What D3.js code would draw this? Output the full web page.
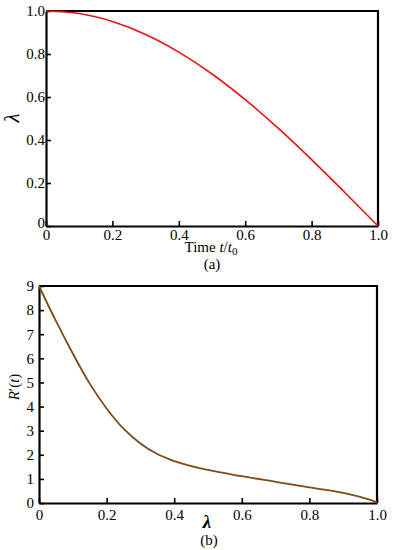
<!DOCTYPE html>
<html>
<head>
<meta charset="utf-8">
<script src="https://cdn.jsdelivr.net/npm/d3@7"></script>
<style>
  body { margin: 0; background: #fff; }
  svg { display: block; font-family: "Liberation Serif", "Times New Roman", serif; }
  svg text { font-family: "Liberation Serif", "Times New Roman", serif; }
  .tick text { font-size: 15px; fill: #000; }
</style>
</head>
<body>
<div id="chart"></div>
<script>
// 图(a)：λ 随时间变化
const timeA = [0, 0.1, 0.2, 0.3, 0.4, 0.5, 0.6, 0.7, 0.8, 0.9, 1.0];
const lambdaA = [1.0, 0.988, 0.951, 0.891, 0.809, 0.707, 0.588, 0.454, 0.309, 0.156, 0];

// 图(b)：R'(t) 随 λ 变化
const lambdaB = [0, 0.05, 0.1, 0.15, 0.2, 0.25, 0.3, 0.35, 0.4, 0.5, 0.6, 0.7, 0.8, 0.9, 0.95, 1.0];
const rateB = [9.0, 7.55, 6.2, 4.95, 3.92, 3.08, 2.47, 2.03, 1.74, 1.37, 1.11, 0.88, 0.65, 0.42, 0.25, 0.03];

// 刻度
const xTicks = [0, 0.2, 0.4, 0.6, 0.8, 1.0];
const xTickLabels = ["0", "0.2", "0.4", "0.6", "0.8", "1.0"];
const yTicksA = [0, 0.2, 0.4, 0.6, 0.8, 1.0];
const yTickLabelsA = ["0", "0.2", "0.4", "0.6", "0.8", "1.0"];
const yTicksB = [0, 1, 2, 3, 4, 5, 6, 7, 8, 9];
const yTickLabelsB = ["0", "1", "2", "3", "4", "5", "6", "7", "8", "9"];

const serif = '"Liberation Serif", "Times New Roman", serif';

const svg = d3.select("#chart")
    .append("svg")
    .attr("width", 393)
    .attr("height", 550);

// 画一个面板
function drawPanel(opt) {
    const x = d3.scaleLinear().domain([0, 1]).range([opt.left, opt.right]);
    const y = d3.scaleLinear().domain(opt.yDomain).range([opt.bottom, opt.top]);

    // X轴（刻度朝内）
    const gx = svg.append("g")
        .attr("transform", `translate(0, ${opt.bottom})`)
        .call(d3.axisBottom(x)
            .tickValues(xTicks)
            .tickFormat((d, i) => xTickLabels[i])
            .tickSizeInner(-5)
            .tickSizeOuter(0)
            .tickPadding(opt.xPad));
    // Y轴
    const gy = svg.append("g")
        .attr("transform", `translate(${opt.left}, 0)`)
        .call(d3.axisLeft(y)
            .tickValues(opt.yTicks)
            .tickFormat((d, i) => opt.yLabels[i])
            .tickSizeInner(-5)
            .tickSizeOuter(0)
            .tickPadding(opt.yPad));

    [gx, gy].forEach(g => {
        g.attr("font-family", serif).attr("font-size", 15);
        g.select(".domain").attr("stroke", "#000").attr("stroke-width", 2.2);
        g.selectAll(".tick line").attr("stroke", "#000").attr("stroke-width", 1.6);
        g.selectAll(".tick text").style("font-family", serif);
    });

    // 左下角的 y 轴 "0" 稍微上移，避免与 x 轴 "0" 重叠
    if (opt.shiftZero) {
        gy.selectAll(".tick text").filter(d => d === 0).attr("dy", "0.1em");
    }

    // 上边框和右边框
    svg.append("path")
        .attr("d", `M${opt.left},${opt.top}H${opt.right}V${opt.bottom}`)
        .attr("fill", "none")
        .attr("stroke", "#000")
        .attr("stroke-width", 2.2);

    // 曲线
    const line = d3.line()
        .x((d, i) => x(opt.xs[i]))
        .y(d => y(d))
        .curve(d3.curveMonotoneX);
    svg.append("path")
        .datum(opt.ys)
        .attr("fill", "none")
        .attr("stroke", opt.color)
        .attr("stroke-width", opt.lineWidth)
        .attr("d", line);

    return {x, y};
}

drawPanel({
    left: 46, right: 378, top: 11, bottom: 226,
    yDomain: [0, 1], yTicks: yTicksA, yLabels: yTickLabelsA,
    xPad: 3.5, yPad: 1, shiftZero: true,
    xs: timeA, ys: lambdaA, color: "#ee1111", lineWidth: 1.6
});

drawPanel({
    left: 39, right: 377, top: 286, bottom: 503,
    yDomain: [0, 9], yTicks: yTicksB, yLabels: yTickLabelsB,
    xPad: 6, yPad: 5, shiftZero: false,
    xs: lambdaB, ys: rateB, color: "#7f4a1a", lineWidth: 1.8
});

// 图(a) 轴标题
const ta = svg.append("text")
    .attr("x", 211).attr("y", 252)
    .attr("text-anchor", "middle")
    .style("font-size", "15px");
ta.append("tspan").text("Time ");
ta.append("tspan").style("font-style", "italic").text("t");
ta.append("tspan").text("/");
ta.append("tspan").style("font-style", "italic").text("t");
ta.append("tspan").attr("dy", 3).style("font-size", "11px").text("0");

svg.append("text")
    .attr("x", 212).attr("y", 269)
    .attr("text-anchor", "middle")
    .style("font-size", "15px")
    .text("(a)");

svg.append("text")
    .attr("transform", "translate(19, 118) rotate(-90)")
    .attr("text-anchor", "middle")
    .style("font-size", "21px")
    .style("font-style", "italic")
    .text("λ");

// 图(b) 轴标题
svg.append("text")
    .attr("x", 207).attr("y", 528)
    .attr("text-anchor", "middle")
    .style("font-size", "19px")
    .style("font-style", "italic")
    .style("font-weight", "bold")
    .text("λ");

svg.append("text")
    .attr("x", 209).attr("y", 545)
    .attr("text-anchor", "middle")
    .style("font-size", "15px")
    .text("(b)");

const tb = svg.append("text")
    .attr("transform", "translate(19, 387) rotate(-90)")
    .attr("text-anchor", "middle")
    .style("font-size", "15px");
tb.append("tspan").style("font-style", "italic").text("R");
tb.append("tspan").text("′(");
tb.append("tspan").style("font-style", "italic").text("t");
tb.append("tspan").text(")");
</script>
</body>
</html>
